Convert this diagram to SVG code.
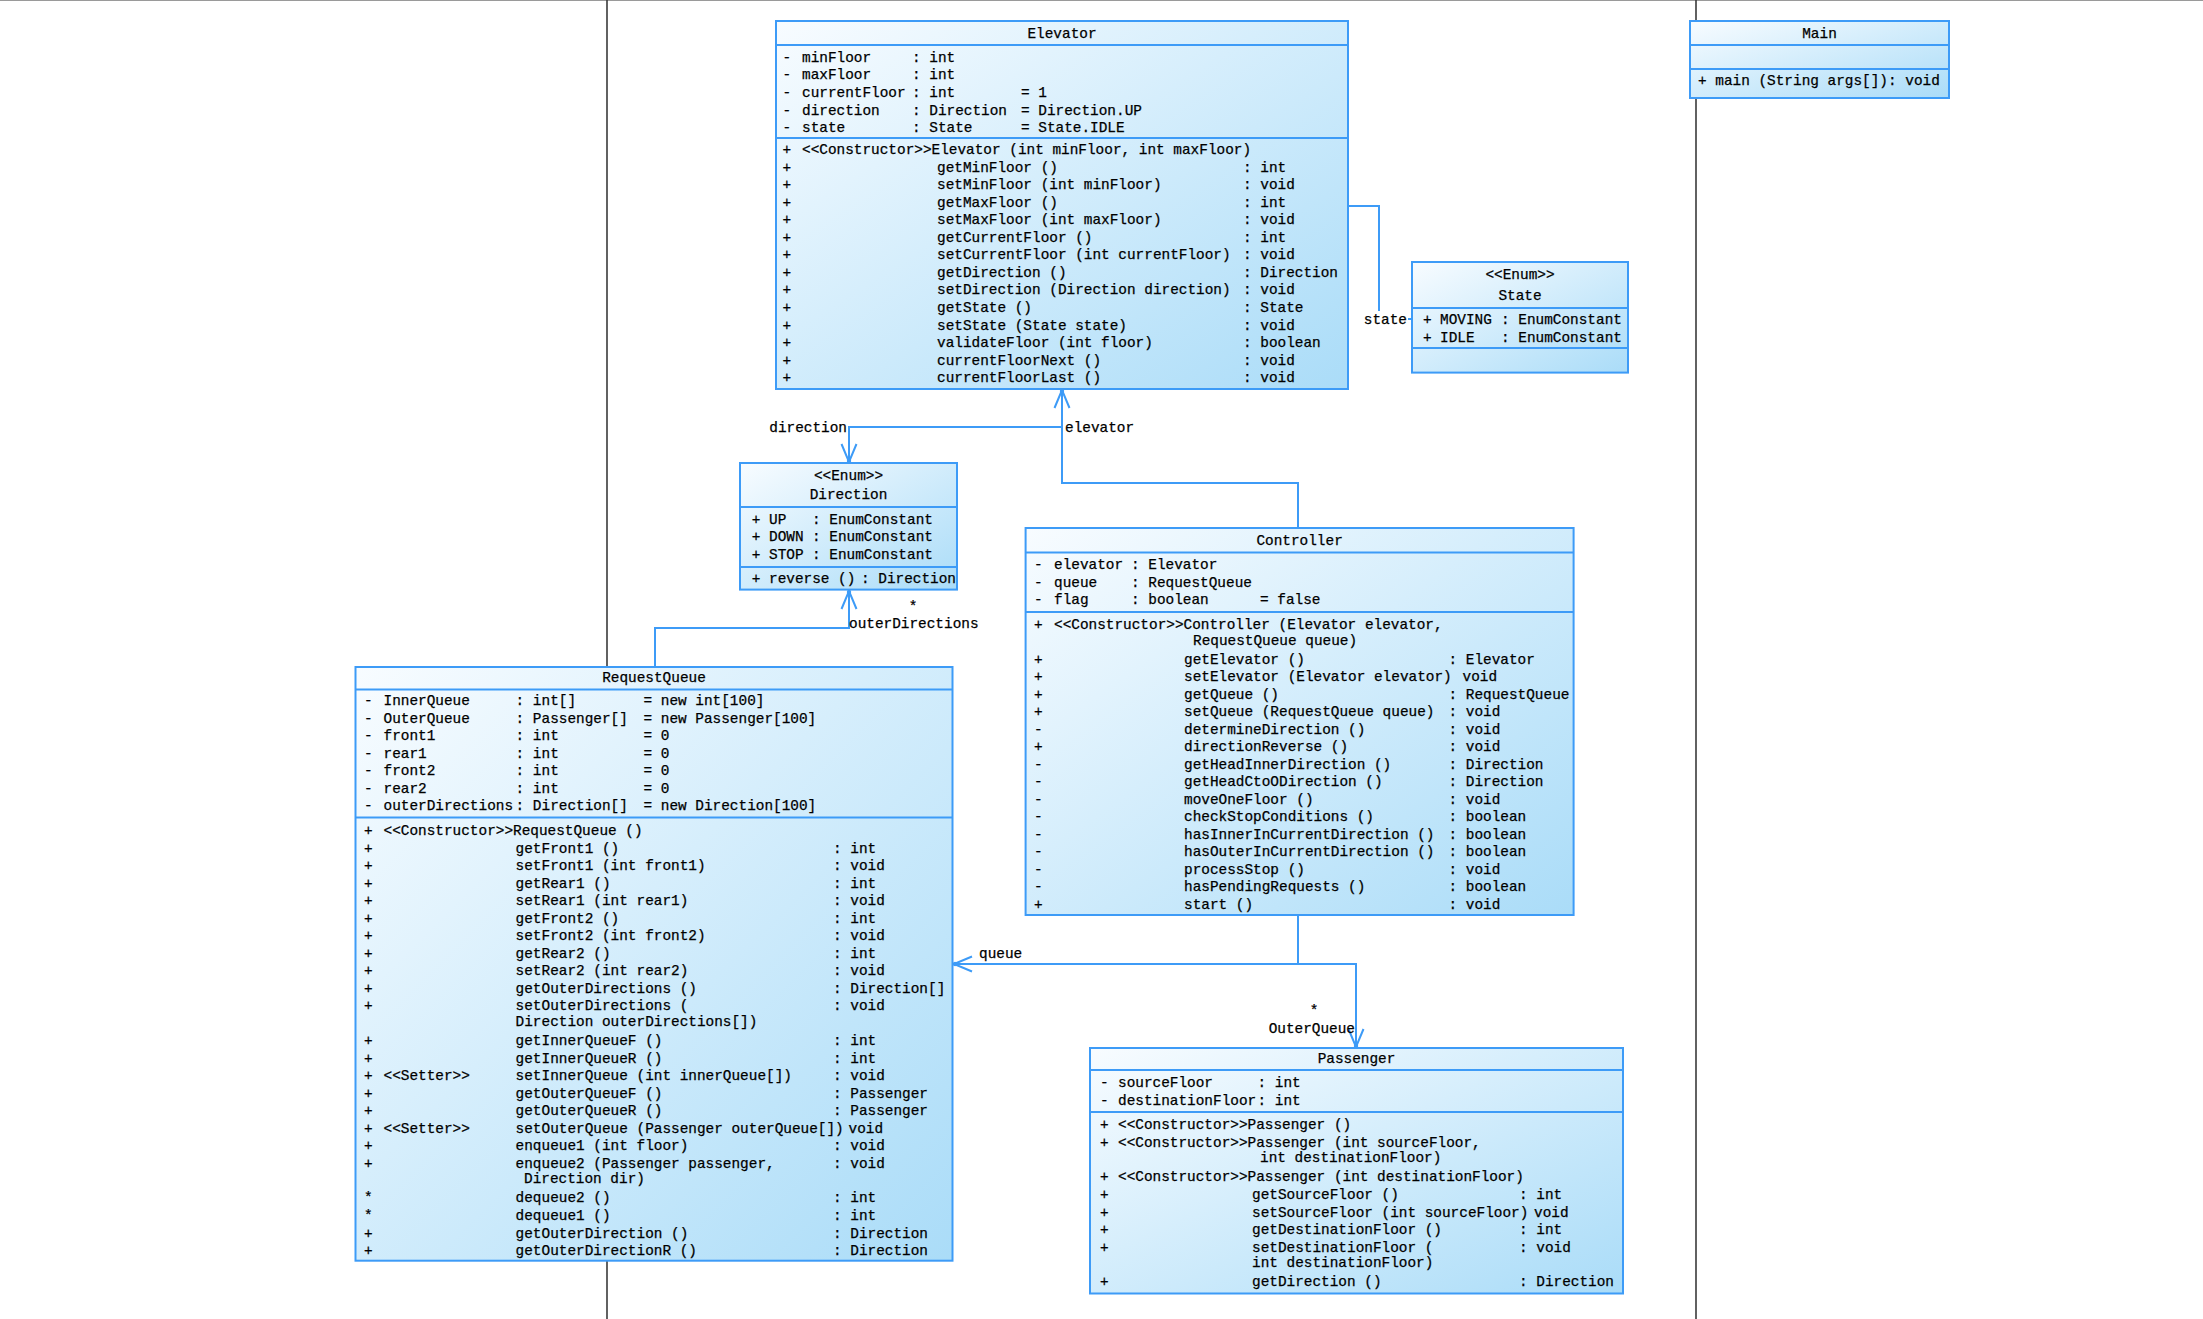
<svg xmlns="http://www.w3.org/2000/svg" width="2203" height="1319" viewBox="0 0 2203 1319">
<style>
.t{font-family:"Liberation Mono","DejaVu Sans Mono",monospace;font-size:14.4px;fill:#000;stroke:#000;stroke-width:0.25}
.c{text-anchor:middle}
.e{text-anchor:end}
.box{fill:url(#g);stroke:#3d9bf7;stroke-width:2}
.dv{stroke:#3d9bf7;stroke-width:2}
.conn{fill:none;stroke:#3d9bf7;stroke-width:2}
.sep{stroke:#3a3a3a;stroke-width:1.6}
</style>
<defs>
<linearGradient id="g" x1="0" y1="0" x2="1" y2="1">
<stop offset="0" stop-color="#f8fcff"/>
<stop offset="1" stop-color="#aadcf8"/>
</linearGradient>
<marker id="arr" viewBox="-21 -10 24 20" refX="0" refY="0" markerWidth="24" markerHeight="20" markerUnits="userSpaceOnUse" orient="auto">
<path d="M-18,-7.5 L0,0 L-18,7.5" fill="none" stroke="#3d9bf7" stroke-width="2"/>
<circle cx="-1" cy="0" r="2.2" fill="#3d9bf7"/>
</marker>
</defs>
<rect x="0" y="0" width="2203" height="1319" fill="#ffffff"/>
<g id="frame">
<line x1="0" y1="0.5" x2="2203" y2="0.5" stroke="#9a9a9a" stroke-width="1"/>
<line class="sep" x1="607" y1="0" x2="607" y2="1319"/>
<line class="sep" x1="1696" y1="0" x2="1696" y2="1319"/>
</g>

<g id="connectors">
<path class="conn" d="M1348,206 H1379 V319 H1412"/>
<path class="conn" d="M1298,528 V483 H1062 V390" marker-end="url(#arr)"/>
<path class="conn" d="M1062,427 H849 V462" marker-end="url(#arr)"/>
<path class="conn" d="M655,667 V628 H849 V591" marker-end="url(#arr)"/>
<path class="conn" d="M1298,915 V964 H954" marker-end="url(#arr)"/>
<path class="conn" d="M953,964 H1356 V1047" marker-end="url(#arr)"/>
<rect x="1362" y="311" width="46" height="16" fill="#ffffff"/>
<text class="t e" x="1407" y="323.5">state</text>
<text class="t e" x="847" y="431.5">direction</text>
<text class="t" x="1065" y="431.5">elevator</text>
<text class="t c" x="913" y="611">*</text>
<text class="t" x="849" y="627.5">outerDirections</text>
<text class="t" x="979" y="957.5">queue</text>
<text class="t c" x="1314" y="1015">*</text>
<text class="t e" x="1355" y="1032.5">OuterQueue</text>
</g>

<g id="elevator">
<rect class="box" x="776" y="21" width="572" height="368"/>
<line class="dv" x1="776" y1="45" x2="1348" y2="45"/>
<line class="dv" x1="776" y1="138" x2="1348" y2="138"/>
<text class="t c" x="1062" y="37.5">Elevator</text>
<text class="t" y="61.7"><tspan x="782.5">-</tspan><tspan x="802">minFloor</tspan><tspan x="912">: int</tspan></text>
<text class="t" y="79.4"><tspan x="782.5">-</tspan><tspan x="802">maxFloor</tspan><tspan x="912">: int</tspan></text>
<text class="t" y="97"><tspan x="782.5">-</tspan><tspan x="802">currentFloor</tspan><tspan x="912">: int</tspan><tspan x="1021">= 1</tspan></text>
<text class="t" y="114.7"><tspan x="782.5">-</tspan><tspan x="802">direction</tspan><tspan x="912">: Direction</tspan><tspan x="1021">= Direction.UP</tspan></text>
<text class="t" y="132.3"><tspan x="782.5">-</tspan><tspan x="802">state</tspan><tspan x="912">: State</tspan><tspan x="1021">= State.IDLE</tspan></text>
<text class="t" y="154.2"><tspan x="782.5">+</tspan><tspan x="802">&lt;&lt;Constructor&gt;&gt;Elevator (int minFloor, int maxFloor)</tspan></text>
<text class="t" y="171.7"><tspan x="782.5">+</tspan><tspan x="937">getMinFloor ()</tspan><tspan x="1243">: int</tspan></text>
<text class="t" y="189.3"><tspan x="782.5">+</tspan><tspan x="937">setMinFloor (int minFloor)</tspan><tspan x="1243">: void</tspan></text>
<text class="t" y="206.8"><tspan x="782.5">+</tspan><tspan x="937">getMaxFloor ()</tspan><tspan x="1243">: int</tspan></text>
<text class="t" y="224.3"><tspan x="782.5">+</tspan><tspan x="937">setMaxFloor (int maxFloor)</tspan><tspan x="1243">: void</tspan></text>
<text class="t" y="241.9"><tspan x="782.5">+</tspan><tspan x="937">getCurrentFloor ()</tspan><tspan x="1243">: int</tspan></text>
<text class="t" y="259.4"><tspan x="782.5">+</tspan><tspan x="937">setCurrentFloor (int currentFloor)</tspan><tspan x="1243">: void</tspan></text>
<text class="t" y="276.9"><tspan x="782.5">+</tspan><tspan x="937">getDirection ()</tspan><tspan x="1243">: Direction</tspan></text>
<text class="t" y="294.4"><tspan x="782.5">+</tspan><tspan x="937">setDirection (Direction direction)</tspan><tspan x="1243">: void</tspan></text>
<text class="t" y="312"><tspan x="782.5">+</tspan><tspan x="937">getState ()</tspan><tspan x="1243">: State</tspan></text>
<text class="t" y="329.5"><tspan x="782.5">+</tspan><tspan x="937">setState (State state)</tspan><tspan x="1243">: void</tspan></text>
<text class="t" y="347"><tspan x="782.5">+</tspan><tspan x="937">validateFloor (int floor)</tspan><tspan x="1243">: boolean</tspan></text>
<text class="t" y="364.6"><tspan x="782.5">+</tspan><tspan x="937">currentFloorNext ()</tspan><tspan x="1243">: void</tspan></text>
<text class="t" y="382.1"><tspan x="782.5">+</tspan><tspan x="937">currentFloorLast ()</tspan><tspan x="1243">: void</tspan></text>
</g>

<g id="main">
<rect class="box" x="1690" y="21" width="259" height="77"/>
<line class="dv" x1="1690" y1="45" x2="1949" y2="45"/>
<line class="dv" x1="1690" y1="69" x2="1949" y2="69"/>
<text class="t c" x="1819.5" y="37.5">Main</text>
<text class="t" x="1698" y="84.5">+ main (String args[]): void</text>
</g>

<g id="state">
<rect class="box" x="1412" y="262" width="216" height="110.6"/>
<line class="dv" x1="1412" y1="308" x2="1628" y2="308"/>
<line class="dv" x1="1412" y1="348" x2="1628" y2="348"/>
<text class="t c" x="1520" y="278.5">&lt;&lt;Enum&gt;&gt;</text>
<text class="t c" x="1520" y="299.5">State</text>
<text class="t" y="324"><tspan x="1423">+</tspan><tspan x="1440">MOVING</tspan><tspan x="1501">: EnumConstant</tspan></text>
<text class="t" y="341.5"><tspan x="1423">+</tspan><tspan x="1440">IDLE</tspan><tspan x="1501">: EnumConstant</tspan></text>
</g>

<g id="direction">
<rect class="box" x="740" y="463" width="217" height="126.6"/>
<line class="dv" x1="740" y1="507" x2="957" y2="507"/>
<line class="dv" x1="740" y1="567" x2="957" y2="567"/>
<text class="t c" x="848.5" y="479.5">&lt;&lt;Enum&gt;&gt;</text>
<text class="t c" x="848.5" y="499">Direction</text>
<text class="t" y="523.5"><tspan x="751.7">+</tspan><tspan x="769">UP</tspan><tspan x="812">: EnumConstant</tspan></text>
<text class="t" y="541"><tspan x="751.7">+</tspan><tspan x="769">DOWN</tspan><tspan x="812">: EnumConstant</tspan></text>
<text class="t" y="558.5"><tspan x="751.7">+</tspan><tspan x="769">STOP</tspan><tspan x="812">: EnumConstant</tspan></text>
<text class="t" y="583"><tspan x="751.7">+</tspan><tspan x="769">reverse ()</tspan><tspan x="861">: Direction</tspan></text>
</g>

<g id="controller">
<rect class="box" x="1025.6" y="528" width="548" height="387"/>
<line class="dv" x1="1025.6" y1="552.6" x2="1573.6" y2="552.6"/>
<line class="dv" x1="1025.6" y1="612" x2="1573.6" y2="612"/>
<text class="t c" x="1299.6" y="544.5">Controller</text>
<text class="t" y="568.5"><tspan x="1034">-</tspan><tspan x="1054">elevator</tspan><tspan x="1131">: Elevator</tspan></text>
<text class="t" y="586.5"><tspan x="1034">-</tspan><tspan x="1054">queue</tspan><tspan x="1131">: RequestQueue</tspan></text>
<text class="t" y="604"><tspan x="1034">-</tspan><tspan x="1054">flag</tspan><tspan x="1131">: boolean</tspan><tspan x="1260">= false</tspan></text>
<text class="t" y="628.5"><tspan x="1034">+</tspan><tspan x="1054">&lt;&lt;Constructor&gt;&gt;Controller (Elevator elevator,</tspan></text>
<text class="t" x="1193" y="644.5">RequestQueue queue)</text>
<text class="t" y="663.5"><tspan x="1034">+</tspan><tspan x="1184">getElevator ()</tspan><tspan x="1448.5">: Elevator</tspan></text>
<text class="t" y="681"><tspan x="1034">+</tspan><tspan x="1184">setElevator (Elevator elevator)</tspan><tspan x="1462.5">void</tspan></text>
<text class="t" y="698.5"><tspan x="1034">+</tspan><tspan x="1184">getQueue ()</tspan><tspan x="1448.5">: RequestQueue</tspan></text>
<text class="t" y="716"><tspan x="1034">+</tspan><tspan x="1184">setQueue (RequestQueue queue)</tspan><tspan x="1448.5">: void</tspan></text>
<text class="t" y="733.5"><tspan x="1034">-</tspan><tspan x="1184">determineDirection ()</tspan><tspan x="1448.5">: void</tspan></text>
<text class="t" y="751"><tspan x="1034">+</tspan><tspan x="1184">directionReverse ()</tspan><tspan x="1448.5">: void</tspan></text>
<text class="t" y="768.5"><tspan x="1034">-</tspan><tspan x="1184">getHeadInnerDirection ()</tspan><tspan x="1448.5">: Direction</tspan></text>
<text class="t" y="786"><tspan x="1034">-</tspan><tspan x="1184">getHeadCtoODirection ()</tspan><tspan x="1448.5">: Direction</tspan></text>
<text class="t" y="803.5"><tspan x="1034">-</tspan><tspan x="1184">moveOneFloor ()</tspan><tspan x="1448.5">: void</tspan></text>
<text class="t" y="821"><tspan x="1034">-</tspan><tspan x="1184">checkStopConditions ()</tspan><tspan x="1448.5">: boolean</tspan></text>
<text class="t" y="838.5"><tspan x="1034">-</tspan><tspan x="1184">hasInnerInCurrentDirection ()</tspan><tspan x="1448.5">: boolean</tspan></text>
<text class="t" y="856"><tspan x="1034">-</tspan><tspan x="1184">hasOuterInCurrentDirection ()</tspan><tspan x="1448.5">: boolean</tspan></text>
<text class="t" y="873.5"><tspan x="1034">-</tspan><tspan x="1184">processStop ()</tspan><tspan x="1448.5">: void</tspan></text>
<text class="t" y="891"><tspan x="1034">-</tspan><tspan x="1184">hasPendingRequests ()</tspan><tspan x="1448.5">: boolean</tspan></text>
<text class="t" y="908.5"><tspan x="1034">+</tspan><tspan x="1184">start ()</tspan><tspan x="1448.5">: void</tspan></text>
</g>

<g id="requestqueue">
<rect class="box" x="355.5" y="667" width="597" height="593.7"/>
<line class="dv" x1="355.5" y1="689.6" x2="952.5" y2="689.6"/>
<line class="dv" x1="355.5" y1="817.5" x2="952.5" y2="817.5"/>
<text class="t c" x="654" y="681.5">RequestQueue</text>
<text class="t" y="705"><tspan x="364">-</tspan><tspan x="383.5">InnerQueue</tspan><tspan x="515.6">: int[]</tspan><tspan x="643.5">= new int[100]</tspan></text>
<text class="t" y="722.5"><tspan x="364">-</tspan><tspan x="383.5">OuterQueue</tspan><tspan x="515.6">: Passenger[]</tspan><tspan x="643.5">= new Passenger[100]</tspan></text>
<text class="t" y="740"><tspan x="364">-</tspan><tspan x="383.5">front1</tspan><tspan x="515.6">: int</tspan><tspan x="643.5">= 0</tspan></text>
<text class="t" y="757.5"><tspan x="364">-</tspan><tspan x="383.5">rear1</tspan><tspan x="515.6">: int</tspan><tspan x="643.5">= 0</tspan></text>
<text class="t" y="775"><tspan x="364">-</tspan><tspan x="383.5">front2</tspan><tspan x="515.6">: int</tspan><tspan x="643.5">= 0</tspan></text>
<text class="t" y="792.5"><tspan x="364">-</tspan><tspan x="383.5">rear2</tspan><tspan x="515.6">: int</tspan><tspan x="643.5">= 0</tspan></text>
<text class="t" y="810"><tspan x="364">-</tspan><tspan x="383.5">outerDirections</tspan><tspan x="515.6">: Direction[]</tspan><tspan x="643.5">= new Direction[100]</tspan></text>
<text class="t" y="834.5"><tspan x="364">+</tspan><tspan x="383.5">&lt;&lt;Constructor&gt;&gt;RequestQueue ()</tspan></text>
<text class="t" y="852.5"><tspan x="364">+</tspan><tspan x="515.6">getFront1 ()</tspan><tspan x="833">: int</tspan></text>
<text class="t" y="869.5"><tspan x="364">+</tspan><tspan x="515.6">setFront1 (int front1)</tspan><tspan x="833">: void</tspan></text>
<text class="t" y="887.5"><tspan x="364">+</tspan><tspan x="515.6">getRear1 ()</tspan><tspan x="833">: int</tspan></text>
<text class="t" y="905.3"><tspan x="364">+</tspan><tspan x="515.6">setRear1 (int rear1)</tspan><tspan x="833">: void</tspan></text>
<text class="t" y="922.5"><tspan x="364">+</tspan><tspan x="515.6">getFront2 ()</tspan><tspan x="833">: int</tspan></text>
<text class="t" y="939.5"><tspan x="364">+</tspan><tspan x="515.6">setFront2 (int front2)</tspan><tspan x="833">: void</tspan></text>
<text class="t" y="957.5"><tspan x="364">+</tspan><tspan x="515.6">getRear2 ()</tspan><tspan x="833">: int</tspan></text>
<text class="t" y="975"><tspan x="364">+</tspan><tspan x="515.6">setRear2 (int rear2)</tspan><tspan x="833">: void</tspan></text>
<text class="t" y="992.5"><tspan x="364">+</tspan><tspan x="515.6">getOuterDirections ()</tspan><tspan x="833">: Direction[]</tspan></text>
<text class="t" y="1009.5"><tspan x="364">+</tspan><tspan x="515.6">setOuterDirections (</tspan><tspan x="833">: void</tspan></text>
<text class="t" x="515.6" y="1025.5">Direction outerDirections[])</text>
<text class="t" y="1044.5"><tspan x="364">+</tspan><tspan x="515.6">getInnerQueueF ()</tspan><tspan x="833">: int</tspan></text>
<text class="t" y="1062.5"><tspan x="364">+</tspan><tspan x="515.6">getInnerQueueR ()</tspan><tspan x="833">: int</tspan></text>
<text class="t" y="1080"><tspan x="364">+</tspan><tspan x="383.5">&lt;&lt;Setter&gt;&gt;</tspan><tspan x="515.6">setInnerQueue (int innerQueue[])</tspan><tspan x="833">: void</tspan></text>
<text class="t" y="1097.5"><tspan x="364">+</tspan><tspan x="515.6">getOuterQueueF ()</tspan><tspan x="833">: Passenger</tspan></text>
<text class="t" y="1114.5"><tspan x="364">+</tspan><tspan x="515.6">getOuterQueueR ()</tspan><tspan x="833">: Passenger</tspan></text>
<text class="t" y="1132.5"><tspan x="364">+</tspan><tspan x="383.5">&lt;&lt;Setter&gt;&gt;</tspan><tspan x="515.6">setOuterQueue (Passenger outerQueue[])</tspan><tspan x="848.6">void</tspan></text>
<text class="t" y="1150"><tspan x="364">+</tspan><tspan x="515.6">enqueue1 (int floor)</tspan><tspan x="833">: void</tspan></text>
<text class="t" y="1167.5"><tspan x="364">+</tspan><tspan x="515.6">enqueue2 (Passenger passenger,</tspan><tspan x="833">: void</tspan></text>
<text class="t" x="524" y="1182.5">Direction dir)</text>
<text class="t" y="1202"><tspan x="364">*</tspan><tspan x="515.6">dequeue2 ()</tspan><tspan x="833">: int</tspan></text>
<text class="t" y="1219.5"><tspan x="364">*</tspan><tspan x="515.6">dequeue1 ()</tspan><tspan x="833">: int</tspan></text>
<text class="t" y="1237.5"><tspan x="364">+</tspan><tspan x="515.6">getOuterDirection ()</tspan><tspan x="833">: Direction</tspan></text>
<text class="t" y="1255"><tspan x="364">+</tspan><tspan x="515.6">getOuterDirectionR ()</tspan><tspan x="833">: Direction</tspan></text>
</g>

<g id="passenger">
<rect class="box" x="1090" y="1048" width="533" height="245.5"/>
<line class="dv" x1="1090" y1="1070" x2="1623" y2="1070"/>
<line class="dv" x1="1090" y1="1112" x2="1623" y2="1112"/>
<text class="t c" x="1356.5" y="1062.5">Passenger</text>
<text class="t" y="1087"><tspan x="1100">-</tspan><tspan x="1118">sourceFloor</tspan><tspan x="1257.5">: int</tspan></text>
<text class="t" y="1104.5"><tspan x="1100">-</tspan><tspan x="1118">destinationFloor</tspan><tspan x="1257.5">: int</tspan></text>
<text class="t" y="1129"><tspan x="1100">+</tspan><tspan x="1118">&lt;&lt;Constructor&gt;&gt;Passenger ()</tspan></text>
<text class="t" y="1146.5"><tspan x="1100">+</tspan><tspan x="1118">&lt;&lt;Constructor&gt;&gt;Passenger (int sourceFloor,</tspan></text>
<text class="t" x="1260" y="1161.5">int destinationFloor)</text>
<text class="t" y="1181"><tspan x="1100">+</tspan><tspan x="1118">&lt;&lt;Constructor&gt;&gt;Passenger (int destinationFloor)</tspan></text>
<text class="t" y="1198.5"><tspan x="1100">+</tspan><tspan x="1252">getSourceFloor ()</tspan><tspan x="1519">: int</tspan></text>
<text class="t" y="1216.5"><tspan x="1100">+</tspan><tspan x="1252">setSourceFloor (int sourceFloor)</tspan><tspan x="1534">void</tspan></text>
<text class="t" y="1234"><tspan x="1100">+</tspan><tspan x="1252">getDestinationFloor ()</tspan><tspan x="1519">: int</tspan></text>
<text class="t" y="1251.5"><tspan x="1100">+</tspan><tspan x="1252">setDestinationFloor (</tspan><tspan x="1519">: void</tspan></text>
<text class="t" x="1252" y="1266.5">int destinationFloor)</text>
<text class="t" y="1286"><tspan x="1100">+</tspan><tspan x="1252">getDirection ()</tspan><tspan x="1519">: Direction</tspan></text>
</g>
</svg>
